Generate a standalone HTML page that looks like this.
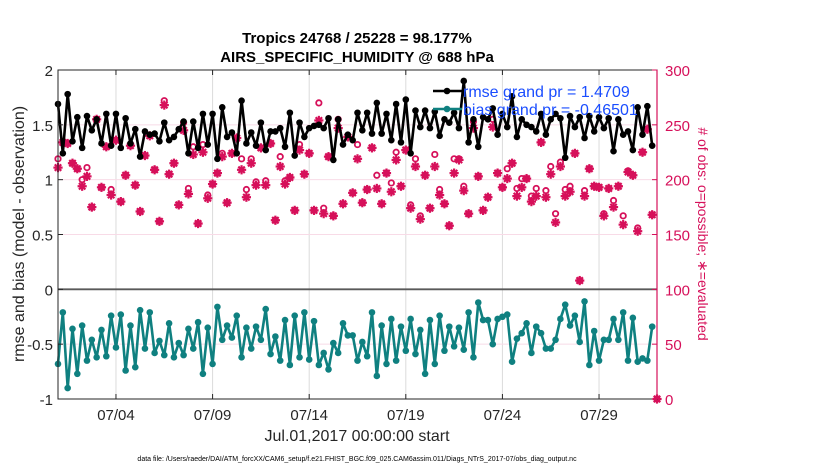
<!DOCTYPE html>
<html><head><meta charset="utf-8"><style>
body{margin:0;background:#fff;}
svg{display:block;font-family:"Liberation Sans",sans-serif;}
</style></head><body>
<svg id="chart" width="830" height="470" xmlns="http://www.w3.org/2000/svg">
<g id="grid"></g><g id="series"></g><g id="axes"></g>
</svg>
<script>
const rmse=[1.69,1.24,1.78,1.35,1.57,1.29,1.58,1.45,1.55,1.33,1.60,1.31,1.60,1.29,1.56,1.33,1.46,1.21,1.44,1.41,1.42,1.35,1.52,1.36,1.39,1.46,1.53,1.24,1.53,1.29,1.60,1.32,1.60,1.19,1.66,1.39,1.43,1.24,1.72,1.33,1.43,1.31,1.52,1.27,1.44,1.44,1.47,1.30,1.61,1.22,1.52,1.39,1.47,1.49,1.50,1.47,1.56,1.18,1.55,1.32,1.41,1.36,1.61,
1.45,1.61,1.42,1.70,1.42,1.60,1.36,1.69,1.34,1.73,1.24,1.63,1.48,1.63,1.47,1.62,1.40,1.55,1.52,1.61,1.47,1.90,1.34,1.55,1.30,1.57,1.55,1.65,1.41,1.60,1.48,1.76,1.39,1.55,1.50,1.48,1.44,1.60,1.41,1.55,1.60,1.56,1.20,1.58,1.48,1.57,1.38,1.58,1.44,1.57,1.47,1.56,1.26,1.55,1.41,1.44,1.27,1.66,1.41,1.67,1.31];
const bias=[-0.68,-0.21,-0.90,-0.36,-0.77,-0.33,-0.65,-0.46,-0.62,-0.37,-0.61,-0.24,-0.53,-0.23,-0.74,-0.33,-0.71,-0.19,-0.54,-0.21,-0.58,-0.47,-0.60,-0.31,-0.62,-0.49,-0.60,-0.36,-0.54,-0.30,-0.77,-0.35,-0.68,-0.16,-0.46,-0.33,-0.44,-0.24,-0.62,-0.35,-0.54,-0.34,-0.46,-0.18,-0.59,-0.43,-0.65,-0.28,-0.69,-0.24,-0.62,-0.21,-0.64,-0.29,-0.69,-0.58,-0.73,-0.49,-0.58,-0.31,-0.42,-0.42,-0.65,
-0.48,-0.61,-0.21,-0.79,-0.33,-0.68,-0.27,-0.65,-0.34,-0.56,-0.27,-0.59,-0.37,-0.77,-0.28,-0.68,-0.24,-0.56,-0.34,-0.52,-0.35,-0.55,-0.21,-0.62,-0.12,-0.28,-0.28,-0.50,-0.27,-0.25,-0.23,-0.66,-0.45,-0.40,-0.31,-0.58,-0.34,-0.40,-0.54,-0.54,-0.46,-0.27,-0.14,-0.33,-0.24,-0.48,-0.11,-0.69,-0.38,-0.65,-0.46,-0.46,-0.27,-0.46,-0.21,-0.65,-0.26,-0.66,-0.63,-0.65,-0.34];
const nEval=[211,234,233,215,210,194,203,175,255,193,230,186,236,180,204,231,195,171,222,240,209,162,268,205,215,177,245,187,223,160,225,183,196,206,221,179,224,238,209,184,215,195,229,195,233,163,212,196,202,172,227,205,224,172,254,169,221,167,247,178,239,188,219,
179,191,229,192,178,206,189,218,194,227,174,212,164,204,174,212,186,178,158,206,218,190,169,247,203,172,184,248,206,193,201,215,185,193,201,180,185,234,184,205,161,212,185,189,224,108,185,210,194,193,167,192,175,194,159,207,204,153,225,246,168,0];
const nPoss=[219,234,233,215,210,200,211,175,255,193,230,191,236,180,204,231,195,171,222,240,209,162,272,205,215,177,252,192,230,160,232,186,196,206,224,179,224,238,219,191,219,198,229,199,233,163,221,199,202,172,232,205,224,172,270,174,221,167,255,178,239,188,232,
179,191,229,204,178,206,197,225,194,227,177,219,167,204,174,223,191,178,158,219,219,194,169,253,203,172,184,255,206,193,210,215,192,201,201,185,192,234,190,212,169,216,191,194,224,108,190,210,194,193,169,192,181,194,167,208,204,156,225,246,168,0];
const yTicks=[2,1.5,1,0.5,0,-0.5,-1];
const yTickLabels=["2","1.5","1","0.5","0","-0.5","-1"];
const rTicks=[300,250,200,150,100,50,0];
const xTickDays=[3,8,13,18,23,28];
const xTickLabels=["07/04","07/09","07/14","07/19","07/24","07/29"];

const NS="http://www.w3.org/2000/svg";
const L=58,R=657,T=70,B=399;
const xS=d=>L+(R-L)*d/31;
const xI=i=>xS(i/4);
const yL=v=>B-(v+1)/3*(B-T);
const yR=v=>B-v/300*(B-T);
function mk(parent,tag,attrs,text){const e=document.createElementNS(NS,tag);for(const k in attrs)e.setAttribute(k,attrs[k]);if(text!==undefined)e.textContent=text;document.getElementById(parent).appendChild(e);return e;}
const RED="#d6105a",TEAL="#0f8080";

xTickDays.forEach((d,i)=>{const e=mk('grid','line',{x1:xS(d),x2:xS(d),y1:T,y2:B,stroke:'#dcdcdc','stroke-width':1});

});
rTicks.forEach(v=>{if(v===0||v===300)return;const e=mk('grid','line',{x1:L,x2:R,y1:yR(v),y2:yR(v),stroke:'#f8dbe7','stroke-width':1});

});
{const e=mk('grid','line',{x1:L,x2:R,y1:yL(0),y2:yL(0),stroke:'#5a5a5a','stroke-width':1.8});

}

function star(x,y){const g=document.createElementNS(NS,'g');const s=4.6;
[[0,-s,0,s],[-s,0,s,0],[-s*.7,-s*.7,s*.7,s*.7],[-s*.7,s*.7,s*.7,-s*.7]].forEach(a=>{const l=document.createElementNS(NS,'line');l.setAttribute('x1',x+a[0]);l.setAttribute('y1',y+a[1]);l.setAttribute('x2',x+a[2]);l.setAttribute('y2',y+a[3]);l.setAttribute('stroke',RED);l.setAttribute('stroke-width',2.2);g.appendChild(l);});
document.getElementById('series').appendChild(g);return g;}
nPoss.forEach((v,i)=>{const e=mk('series','circle',{cx:xI(i),cy:yR(v),r:2.7,fill:'none',stroke:RED,'stroke-width':1.8});

});
nEval.forEach((v,i)=>{const g=star(xI(i),yR(v));

});

function series(arr,color,name){
 const p=arr.map((v,i)=>xI(i).toFixed(1)+','+yL(v).toFixed(1)).join(' ');
 const l=mk('series','polyline',{points:p,fill:'none',stroke:color,'stroke-width':2.6,'stroke-linejoin':'round'});
 
 
 arr.forEach((v,i)=>{const c=mk('series','circle',{cx:xI(i),cy:yL(v),r:3.3,fill:color});
 
 });
}
series(rmse,'#000','rmse');
series(bias,TEAL,'bias');

{const e=mk('axes','rect',{x:L,y:T,width:R-L,height:B-T,fill:'none',stroke:'#262626','stroke-width':1});

}
{const e=mk('axes','line',{x1:R,x2:R,y1:T,y2:B,stroke:RED,'stroke-width':1.2});

}
yTicks.forEach((v,i)=>{mk('axes','line',{x1:L,x2:L+5,y1:yL(v),y2:yL(v),stroke:'#262626'});
const t=mk('axes','text',{x:L-5,y:yL(v)+6,'text-anchor':'end','font-size':15,fill:'#262626'},yTickLabels[i]);

});
rTicks.forEach(v=>{mk('axes','line',{x1:R-5,x2:R,y1:yR(v),y2:yR(v),stroke:RED});
const t=mk('axes','text',{x:R+8,y:yR(v)+6,'font-size':15,fill:RED},String(v));

});
xTickDays.forEach((d,i)=>{mk('axes','line',{x1:xS(d),x2:xS(d),y1:B,y2:B-5,stroke:'#262626'});
mk('axes','line',{x1:xS(d),x2:xS(d),y1:T,y2:T+5,stroke:'#262626'});
const t=mk('axes','text',{x:xS(d),y:B+21,'text-anchor':'middle','font-size':15,fill:'#262626'},xTickLabels[i]);

});
</script>
<svg style="position:absolute;left:0;top:0" width="830" height="470" xmlns="http://www.w3.org/2000/svg" font-family="Liberation Sans, sans-serif">
<text x="357" y="43" text-anchor="middle" font-size="15" font-weight="bold" fill="#000">Tropics 24768 / 25228 = 98.177%</text>
<text x="357" y="62" text-anchor="middle" font-size="15" font-weight="bold" fill="#000">AIRS_SPECIFIC_HUMIDITY @ 688 hPa</text>
<text transform="translate(24,234) rotate(-90)" text-anchor="middle" font-size="16" fill="#262626">rmse and bias (model - observation)</text>
<text transform="translate(698,234) rotate(90)" text-anchor="middle" font-size="14" fill="#d6105a"># of obs: o=possible; ∗=evaluated</text>
<text x="357" y="441" text-anchor="middle" font-size="16" fill="#262626">Jul.01,2017 00:00:00 start</text>
<text x="357" y="461" text-anchor="middle" font-size="7" fill="#000">data file: /Users/raeder/DAI/ATM_forcXX/CAM6_setup/f.e21.FHIST_BGC.f09_025.CAM6assim.011/Diags_NTrS_2017-07/obs_diag_output.nc</text>
<g>
<line x1="433" x2="462" y1="91" y2="91" stroke="#000" stroke-width="2.6"/><circle cx="447" cy="91" r="3.3" fill="#000"/>
<text x="463" y="97" font-size="16" fill="#1a4dff">rmse grand pr = 1.4709</text>
<line x1="433" x2="462" y1="109" y2="109" stroke="#0f8080" stroke-width="2.6"/><circle cx="447" cy="109" r="3.3" fill="#0f8080"/>
<text x="463" y="115" font-size="16" fill="#1a4dff">bias grand pr = -0.46501</text>
</g>
</svg>
</body></html>
